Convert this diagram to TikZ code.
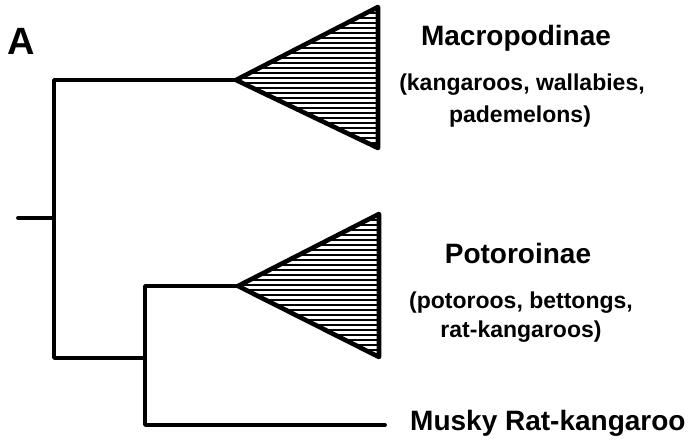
\documentclass[tikz,border=0pt]{standalone}
\usepackage{fontspec}
\setmainfont{Liberation Sans}
\usepackage{tikz}

\tikzset{
  branch/.style={line width=3.8pt,line cap=round,line join=round},
  clade/.style={line width=4.6pt,line join=round},
  hatch/.style={line width=2.2pt},
  taxon/.style={font=\bfseries\fontsize{28}{30}\selectfont,inner sep=0pt},
  common/.style={font=\bfseries\fontsize{23}{25}\selectfont,inner sep=0pt}
}

\begin{document}
\begin{tikzpicture}[x=1pt,y=-1pt]
\useasboundingbox (0,0) rectangle (694,444);
\node[font=\bfseries\fontsize{38}{40}\selectfont,inner sep=0pt] (panel) at (21,41) {A};
% tree
\coordinate (root) at (18,218);
\coordinate (n1) at (54,218);
\coordinate (n1top) at (54,80);
\coordinate (n1bot) at (54,358);
\coordinate (n2) at (145,358);
\coordinate (n2top) at (145,286);
\coordinate (n2bot) at (145,425);
\coordinate (macro) at (236,80);
\coordinate (potoro) at (238,286);
\coordinate (musky) at (385,425);
\draw[branch] (root)--(n1);
\draw[branch] (macro)--(n1top)--(n1bot)--(n2);
\draw[branch] (potoro)--(n2top)--(n2bot)--(musky);
% clades
\coordinate (m1) at (378,7);
\coordinate (m2) at (378,148);
\coordinate (p1) at (379,214);
\coordinate (p2) at (379,357);
\begin{scope}
\clip (macro)--(m1)--(m2)--cycle;
\foreach \y in {8,13,...,148} \draw[hatch] (230,\y)--(380,\y);
\end{scope}
\begin{scope}
\clip (potoro)--(p1)--(p2)--cycle;
\foreach \y in {215,220,...,357} \draw[hatch] (230,\y)--(380,\y);
\end{scope}
\draw[clade] (macro)--(m1)--(m2)--cycle;
\draw[clade] (potoro)--(p1)--(p2)--cycle;
% labels
\node[taxon] (macroname) at (516,38) {Macropodinae};
\node[common] (macro1) at (522,85) {(kangaroos, wallabies,};
\node[common] (macro2) at (520,117) {pademelons)};
\node[taxon] (potoroname) at (518,253) {Potoroinae};
\node[common] (potoro1) at (521,303) {(potoroos, bettongs,};
\node[common] (potoro2) at (521,332) {rat-kangaroos)};
\node[taxon,anchor=west] (muskyname) at (410,423) {Musky Rat-kangaroo};
\end{tikzpicture}
\end{document}
